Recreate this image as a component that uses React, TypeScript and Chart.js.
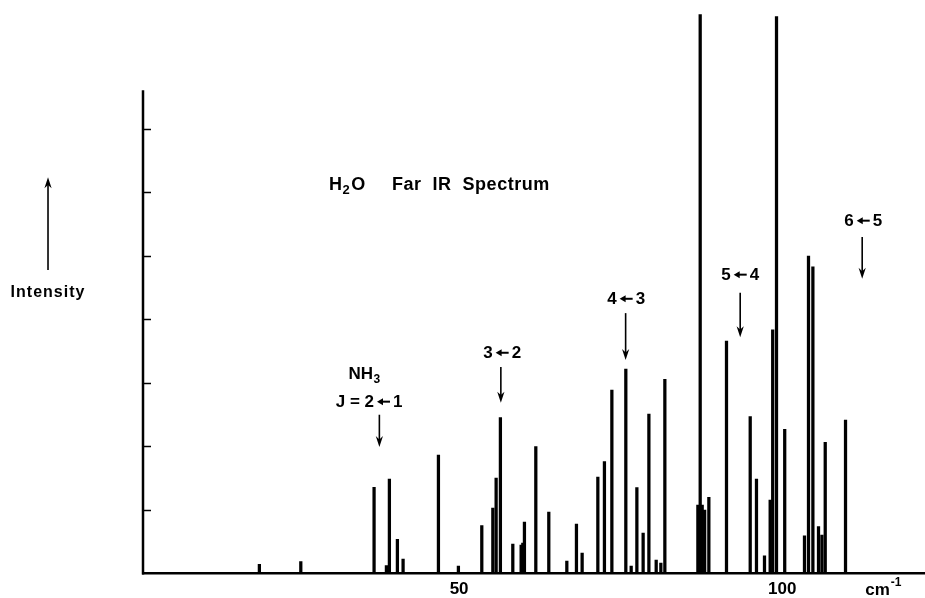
import { useEffect, useRef } from 'react';
import { Chart, registerables } from 'chart.js';

Chart.register(...registerables);

// Line positions (cm^-1) and relative intensities
const LINE_POSITIONS = [
  19.09, 25.5, 36.84, 38.75, 39.21, 40.45, 41.33, 46.8, 49.89, 53.51,
  55.22, 55.73, 56.39, 58.31, 59.6, 59.86, 60.11, 61.87, 63.88, 66.67,
  68.16, 69.04, 71.47, 72.49, 73.64, 75.8, 76.63, 77.51, 78.48, 79.37,
  80.5, 81.22, 81.84, 86.95, 87.31, 87.62, 88.0, 88.65, 91.38, 95.05,
  96.02, 97.26, 98.14, 98.53, 99.12, 100.39, 103.45, 104.07, 104.75, 105.62,
  106.15, 106.66, 109.8,
];
const LINE_INTENSITIES = [
  0.145, 0.186, 1.357, 0.123, 1.488, 0.539, 0.228, 1.866, 0.118, 0.753,
  1.031, 1.504, 2.454, 0.465, 0.449, 0.48, 0.811, 1.997, 0.969, 0.197,
  0.78, 0.323, 1.52, 1.761, 2.89, 3.22, 0.118, 1.351, 0.638, 2.512,
  0.213, 0.165, 3.058, 1.079, 8.8, 1.079, 1.0, 1.2, 3.661, 2.469,
  1.488, 0.28, 1.157, 3.835, 8.77, 2.271, 0.595, 5.0, 4.83, 0.737,
  0.606, 2.066, 2.417,
];

const X_TICKS = [50, 100];
const Y_TICKS = [1, 2, 3, 4, 5, 6, 7];
const X_MIN = 1.08;
const X_MAX = 122.1;
const Y_MAX = 8.81;
const Y_AXIS_TOP = 7.61;

// Rotational transition labels: [upper, lower, label x, label y, arrow top y, arrow bottom y, arrow x]
const TRANSITIONS = [
  { upper: '3', lower: '2', x: 56.66, y: 3.46, arrowX: 56.46, arrowFrom: 3.25, arrowTo: 2.69 },
  { upper: '4', lower: '3', x: 75.85, y: 4.31, arrowX: 75.77, arrowFrom: 4.1, arrowTo: 3.36 },
  { upper: '5', lower: '4', x: 93.5, y: 4.69, arrowX: 93.5, arrowFrom: 4.42, arrowTo: 3.72 },
  { upper: '6', lower: '5', x: 112.54, y: 5.54, arrowX: 112.38, arrowFrom: 5.3, arrowTo: 4.64 },
];
const NH3_LABEL = { x: 35.29, y: 3.13, jx: 36.07, jy: 2.69, arrowX: 37.66, arrowFrom: 2.5, arrowTo: 1.99 };
const TITLE = { x: 29.88, y: 6.12, restX: 39.63, rest: 'Far  IR  Spectrum' };
const INTENSITY_LABEL = { text: 'Intensity', x: -13.62, y: 4.43, arrowFrom: 4.78, arrowTo: 6.24 };
const UNIT_LABEL = { x: 112.85, y: -0.26 };

const FONT = '"Liberation Sans", Arial, sans-serif';

function drawArrow(ctx: CanvasRenderingContext2D, x: number, y1: number, y2: number) {
  const dir = y2 > y1 ? 1 : -1;
  const head = 11;
  ctx.lineWidth = 1.6;
  ctx.beginPath();
  ctx.moveTo(x, y1);
  ctx.lineTo(x, y2 - dir * head * 0.6);
  ctx.stroke();
  ctx.beginPath();
  ctx.moveTo(x, y2);
  ctx.lineTo(x - 3.6, y2 - dir * head);
  ctx.lineTo(x, y2 - dir * head * 0.7);
  ctx.lineTo(x + 3.6, y2 - dir * head);
  ctx.closePath();
  ctx.fill();
}

// Draws tokens centred on cx; token 'ARROW' is a small left-pointing arrow glyph
function drawTokens(ctx: CanvasRenderingContext2D, tokens: string[], cx: number, cy: number) {
  const arrowW = 13;
  const gap = 3;
  const widths = tokens.map((t) => (t === 'ARROW' ? arrowW + 2 * gap : ctx.measureText(t).width));
  const total = widths.reduce((a, b) => a + b, 0);
  let xx = cx - total / 2;
  ctx.textAlign = 'left';
  ctx.textBaseline = 'middle';
  tokens.forEach((t, i) => {
    if (t === 'ARROW') {
      const x0 = xx + gap;
      const x1 = xx + gap + arrowW;
      const yy = cy - 1;
      ctx.lineWidth = 2;
      ctx.beginPath();
      ctx.moveTo(x1, yy);
      ctx.lineTo(x0 + 4, yy);
      ctx.stroke();
      ctx.beginPath();
      ctx.moveTo(x0, yy);
      ctx.lineTo(x0 + 6, yy - 3.5);
      ctx.lineTo(x0 + 6, yy + 3.5);
      ctx.closePath();
      ctx.fill();
    } else {
      ctx.fillText(t, xx, cy);
    }
    xx += widths[i];
  });
}

const overlayPlugin = {
  id: 'spectrumOverlay',
  afterDraw(chart: any) {
    const { ctx, chartArea } = chart;
    const xs = chart.scales.x;
    const ys = chart.scales.y;
    const px = (v: number) => xs.getPixelForValue(v);
    const py = (v: number) => ys.getPixelForValue(v);
    ctx.save();
    ctx.strokeStyle = '#000';
    ctx.fillStyle = '#000';

    // Y axis line with inward ticks
    ctx.lineWidth = 2.5;
    ctx.beginPath();
    ctx.moveTo(chartArea.left, py(0) + 1);
    ctx.lineTo(chartArea.left, py(Y_AXIS_TOP));
    ctx.stroke();
    ctx.lineWidth = 1.5;
    Y_TICKS.forEach((t) => {
      const yy = Math.round(py(t)) + 0.5;
      ctx.beginPath();
      ctx.moveTo(chartArea.left, yy);
      ctx.lineTo(chartArea.left + 8, yy);
      ctx.stroke();
    });

    // Transition labels
    ctx.font = `bold 17px ${FONT}`;
    TRANSITIONS.forEach((t) => {
      ctx.font = `bold 17px ${FONT}`;
      drawTokens(ctx, [t.upper, 'ARROW', t.lower], px(t.x), py(t.y));
      drawArrow(ctx, px(t.arrowX), py(t.arrowFrom), py(t.arrowTo));
    });

    // NH3 label
    ctx.font = `bold 17px ${FONT}`;
    ctx.textBaseline = 'middle';
    ctx.textAlign = 'left';
    const nhW = ctx.measureText('NH').width;
    ctx.font = `bold 12px ${FONT}`;
    const subW = ctx.measureText('3').width;
    const nhX = px(NH3_LABEL.x) - (nhW + subW) / 2;
    ctx.font = `bold 17px ${FONT}`;
    ctx.fillText('NH', nhX, py(NH3_LABEL.y));
    ctx.font = `bold 12px ${FONT}`;
    ctx.fillText('3', nhX + nhW + 0.5, py(NH3_LABEL.y) + 5);
    ctx.font = `bold 17px ${FONT}`;
    drawTokens(ctx, ['J', ' = ', '2', 'ARROW', '1'], px(NH3_LABEL.jx), py(NH3_LABEL.jy));
    drawArrow(ctx, px(NH3_LABEL.arrowX), py(NH3_LABEL.arrowFrom), py(NH3_LABEL.arrowTo));

    // Title
    ctx.textAlign = 'left';
    ctx.textBaseline = 'middle';
    ctx.font = `bold 18px ${FONT}`;
    const tx = px(TITLE.x);
    const ty = py(TITLE.y);
    ctx.fillText('H', tx, ty);
    const hW = ctx.measureText('H').width;
    ctx.font = `bold 13px ${FONT}`;
    ctx.fillText('2', tx + hW + 0.5, ty + 6);
    const twoW = ctx.measureText('2').width;
    ctx.font = `bold 18px ${FONT}`;
    ctx.fillText('O', tx + hW + twoW + 2, ty);
    (ctx as any).letterSpacing = '0.5px';
    ctx.fillText(TITLE.rest, px(TITLE.restX), ty);
    (ctx as any).letterSpacing = '0px';

    // Intensity label with upward arrow
    ctx.font = `bold 16px ${FONT}`;
    (ctx as any).letterSpacing = '1px';
    ctx.textAlign = 'center';
    ctx.fillText(INTENSITY_LABEL.text, px(INTENSITY_LABEL.x), py(INTENSITY_LABEL.y));
    (ctx as any).letterSpacing = '0px';
    drawArrow(ctx, px(INTENSITY_LABEL.x), py(INTENSITY_LABEL.arrowFrom), py(INTENSITY_LABEL.arrowTo));

    // Unit label
    ctx.textAlign = 'left';
    ctx.font = `bold 17px ${FONT}`;
    const ux = px(UNIT_LABEL.x);
    const uy = py(UNIT_LABEL.y);
    ctx.fillText('cm', ux, uy);
    const cmW = ctx.measureText('cm').width;
    ctx.font = `bold 12px ${FONT}`;
    ctx.fillText('-1', ux + cmW + 1, uy - 7);

    ctx.restore();
  },
};

export default function App() {
  const canvasRef = useRef<HTMLCanvasElement | null>(null);

  useEffect(() => {
    if (!canvasRef.current) return;
    const chart = new Chart(canvasRef.current, {
      type: 'bar',
      data: {
        datasets: [
          {
            data: LINE_POSITIONS.map((x, i) => ({ x, y: LINE_INTENSITIES[i] })),
            backgroundColor: '#000',
            borderWidth: 0,
            barThickness: 2.6,
          } as any,
        ],
      },
      options: {
        animation: false,
        responsive: false,
        layout: { padding: { left: 143, top: 14, right: 0, bottom: 0 } },
        plugins: {
          legend: { display: false },
          tooltip: { enabled: false },
        },
        scales: {
          x: {
            type: 'linear',
            min: X_MIN,
            max: X_MAX,
            offset: false,
            grid: { display: false, drawTicks: false },
            border: { display: true, color: '#000', width: 2.5 },
            ticks: {
              color: '#000',
              font: { family: FONT, size: 17, weight: 'bold' },
              padding: 6,
              autoSkip: false,
              maxRotation: 0,
            },
            afterBuildTicks: (scale: any) => {
              scale.ticks = X_TICKS.map((v) => ({ value: v }));
            },
            afterFit: (scale: any) => {
              scale.height = 24.5;
            },
          },
          y: {
            display: false,
            min: 0,
            max: Y_MAX,
          },
        },
      } as any,
      plugins: [overlayPlugin],
    });
    return () => chart.destroy();
  }, []);

  return (
    <canvas
      ref={canvasRef}
      width={925}
      height={598}
      style={{ position: 'fixed', left: 0, top: 0, width: 925, height: 598, background: '#fff' }}
    />
  );
}
